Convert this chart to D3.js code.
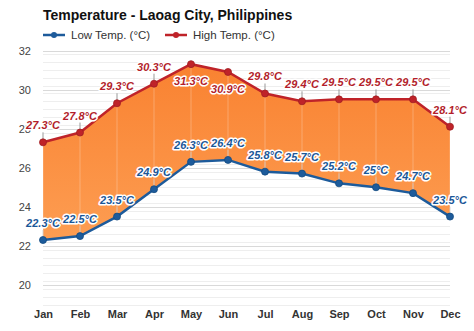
<!DOCTYPE html>
<html><head><meta charset="utf-8">
<script src="https://cdn.jsdelivr.net/npm/d3@7"></script>
<style>body{margin:0;background:#fff;font-family:"Liberation Sans",Arial,sans-serif;}</style>
</head><body><svg id="c" width="474" height="331"></svg>
<script>
const months = ["Jan","Feb","Mar","Apr","May","Jun","Jul","Aug","Sep","Oct","Nov","Dec"];
const highTemps = [27.3,27.8,29.3,30.3,31.3,30.9,29.8,29.4,29.5,29.5,29.5,28.1];
const lowTemps = [22.3,22.5,23.5,24.9,26.3,26.4,25.8,25.7,25.2,25,24.7,23.5];
const highLabelBelow = [false,false,false,false,true,true,false,false,false,false,false,false];
const yTicks = [20,22,24,26,28,30,32];
const title = "Temperature - Laoag City, Philippines";
const legendLabels = ["Low Temp. (°C)","High Temp. (°C)"];

const svg = d3.select("#c");
const x = d3.scalePoint().domain(months).range([43,450]);
const y = d3.scaleLinear().domain([19,32]).range([304.5,50.5]);
const red = "#bf2329", blue = "#1d5b9b";

const defs = svg.append("defs");
const g = defs.append("linearGradient").attr("id","og")
  .attr("gradientUnits","userSpaceOnUse").attr("x1",0).attr("x2",0).attr("y1",y(31.3)).attr("y2",y(22.3));
g.append("stop").attr("offset",0).attr("stop-color","#f98231");
g.append("stop").attr("offset",1).attr("stop-color","#fd9d52");

// minor grid
const minor = d3.range(19,32.01,0.4);
svg.append("g").selectAll("line").data(minor).join("line")
  .attr("x1",43).attr("x2",450).attr("y1",d=>Math.round(y(d))+0.5).attr("y2",d=>Math.round(y(d))+0.5)
  .attr("stroke","#eeeeee").attr("stroke-width",1);
// major grid
svg.append("g").selectAll("line").data(yTicks).join("line")
  .attr("x1",43).attr("x2",450).attr("y1",d=>Math.round(y(d))+0.5).attr("y2",d=>Math.round(y(d))+0.5)
  .attr("stroke","#d9d9d9").attr("stroke-width",1.2);

// y axis labels
const yAxis = d3.axisLeft(y).tickValues(yTicks).tickSize(0).tickPadding(0);
const ya = svg.append("g").attr("transform","translate(31,0)").call(yAxis);
ya.select(".domain").remove();
ya.selectAll("text").attr("font-size",11).attr("fill","#444").attr("font-family","Liberation Sans, Arial, sans-serif");

// x axis labels
const xAxis = d3.axisBottom(x).tickSize(0).tickPadding(0);
const xa = svg.append("g").attr("transform","translate(0,310)").call(xAxis);
xa.select(".domain").remove();
xa.selectAll("text").attr("font-size",11).attr("font-weight","bold").attr("fill","#333").attr("font-family","Liberation Sans, Arial, sans-serif");

const data = months.map((m,i)=>({m,hi:highTemps[i],lo:lowTemps[i],below:highLabelBelow[i]}));

// area
const area = d3.area().x(d=>x(d.m)).y0(d=>y(d.lo)).y1(d=>y(d.hi));
svg.append("path").datum(data).attr("d",area).attr("fill","url(#og)");

// light vertical lines inside area
svg.append("g").selectAll("line").data(data).join("line")
  .attr("x1",d=>x(d.m)).attr("x2",d=>x(d.m)).attr("y1",d=>y(d.hi)).attr("y2",d=>y(d.lo))
  .attr("stroke","#ffffff").attr("stroke-opacity",0.25).attr("stroke-width",1);

// connectors
const conn = svg.append("g").attr("stroke","#999").attr("stroke-width",1);
data.forEach(d=>{
  const yh = y(d.hi);
  if(!d.below) conn.append("line").attr("x1",x(d.m)).attr("x2",x(d.m)).attr("y1",yh).attr("y2",yh-10);
  const yl = y(d.lo);
  conn.append("line").attr("x1",x(d.m)).attr("x2",x(d.m)).attr("y1",yl).attr("y2",yl-10).attr("stroke","#c8c8c8").attr("stroke-opacity",0.7);
});

// lines
const lineHi = d3.line().x(d=>x(d.m)).y(d=>y(d.hi));
const lineLo = d3.line().x(d=>x(d.m)).y(d=>y(d.lo));
svg.append("path").datum(data).attr("d",lineHi).attr("fill","none").attr("stroke",red).attr("stroke-width",2.5);
svg.append("path").datum(data).attr("d",lineLo).attr("fill","none").attr("stroke",blue).attr("stroke-width",2.5);
svg.append("g").selectAll("circle").data(data).join("circle")
  .attr("cx",d=>x(d.m)).attr("cy",d=>y(d.hi)).attr("r",3.5).attr("fill",red).attr("stroke","#a01d22").attr("stroke-width",0.8);
svg.append("g").selectAll("circle").data(data).join("circle")
  .attr("cx",d=>x(d.m)).attr("cy",d=>y(d.lo)).attr("r",3.5).attr("fill",blue).attr("stroke","#134a80").attr("stroke-width",0.8);

// labels
function fmt(v){return (Math.round(v*10)/10).toString()+"°C";}
function lab(sel,color){
  sel.attr("text-anchor","middle").attr("font-size",11).attr("font-weight","bold").attr("font-style","italic")
    .attr("font-family","Liberation Sans, Arial, sans-serif")
    .attr("fill",color).attr("stroke","#fff").attr("stroke-width",3).attr("stroke-linejoin","round")
    .attr("paint-order","stroke");
}
svg.append("g").selectAll("text").data(data).join("text")
  .attr("x",d=>x(d.m)).attr("y",d=>d.below? y(d.hi)+21 : y(d.hi)-13)
  .text(d=>fmt(d.hi)).call(lab,"#b31e2b");
svg.append("g").selectAll("text").data(data).join("text")
  .attr("x",d=>x(d.m)).attr("y",d=>y(d.lo)-13)
  .text(d=>fmt(d.lo)).call(lab,"#1a5798");

// title
svg.append("text").attr("x",43).attr("y",20).attr("font-size",14).attr("font-weight","bold").attr("fill","#111")
  .text(title);
// legend
const leg = [{t:legendLabels[0],c:blue,x:43},{t:legendLabels[1],c:red,x:165}];
leg.forEach(l=>{
  svg.append("line").attr("x1",l.x).attr("x2",l.x+22).attr("y1",35).attr("y2",35).attr("stroke",l.c).attr("stroke-width",2.5);
  svg.append("circle").attr("cx",l.x+11).attr("cy",35).attr("r",3).attr("fill",l.c);
  svg.append("text").attr("x",l.x+28).attr("y",39).attr("font-size",11.5).attr("fill","#333").text(l.t);
});
</script></body></html>
